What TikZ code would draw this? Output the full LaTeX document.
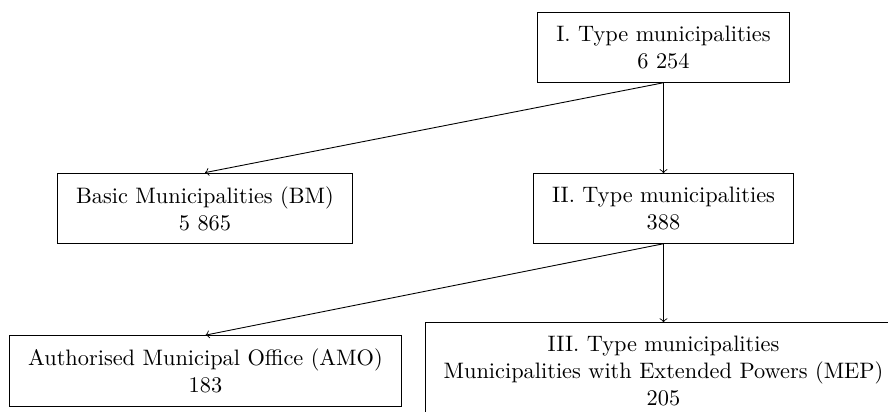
\documentclass[tikz,border=0pt]{standalone}
\begin{document}
\begin{tikzpicture}[x=0.4476pt, y=-0.4476pt,
  box/.style={draw, align=center, inner xsep=8.3pt, inner ysep=6pt, line width=0.4pt},
  link/.style={->, line width=0.4pt}]
\clip (0,0) rectangle (888,412);
\node[box] (t1) at (663.5,47.5) {I. Type municipalities\\6 254};
\node[box] (bm) at (205,208.5) {Basic Municipalities (BM)\\5 865};
\node[box] (t2) at (663.5,208.5) {II. Type municipalities\\388};
\node[box] (amo) at (205.5,371) {Authorised Municipal Office (AMO)\\183};
\node[box] (mep) at (663.5,371) {III. Type municipalities\\Municipalities with Extended Powers (MEP)\\205};
\draw[link] (t1.south) -- (bm.north);
\draw[link] (t1.south) -- (t2.north);
\draw[link] (t2.south) -- (amo.north);
\draw[link] (t2.south) -- (mep.north);
\end{tikzpicture}
\end{document}
